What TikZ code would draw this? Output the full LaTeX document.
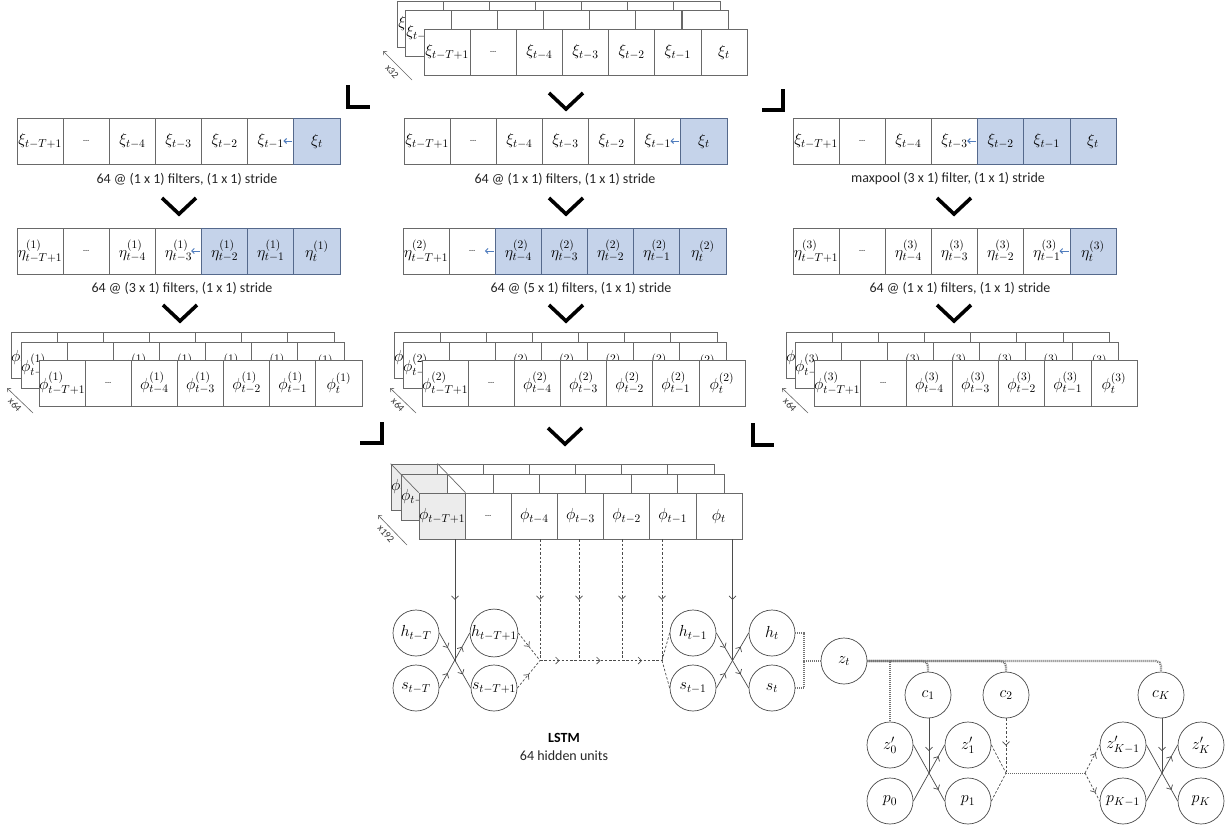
\documentclass[tikz,border=0pt]{standalone}
\usepackage{fix-cm}
\usepackage{fontspec}
\newfontfamily\capfont{Carlito}
\DeclareMathSizes{16}{16}{11.5}{9}
\usetikzlibrary{arrows.meta,decorations.markings,calc}
\definecolor{cellblue}{RGB}{197,211,234}
\definecolor{bluebord}{RGB}{85,105,140}
\definecolor{cellgray}{RGB}{236,236,236}
\definecolor{arrblue}{RGB}{80,125,190}
\definecolor{cline}{RGB}{105,105,105}
\definecolor{nline}{RGB}{75,75,75}
\newcommand{\dotsz}{{\fontsize{11}{13}\selectfont\ldots}}
\newcommand{\crow}[7]{%
  \foreach \lab [count=\i] in {{$#6_{t-T+1}$},{\dotsz},{$#6_{t-4}$},{$#6_{t-3}$},{$#6_{t-2}$},{$#6_{t-1}$},{$#6_{t}$}} {%
    \ifnum\i=1 \def\cf{#5}\def\cd{cline}\else
      \ifnum\i<#4 \def\cf{white}\def\cd{cline}\else\def\cf{cellblue}\def\cd{bluebord}\fi\fi
    \ifnum\i>#7 \def\lb{}\else\let\lb\lab\fi
    \node[cell, fill=\cf, draw=\cd] (#1-\i) at ({#2+(\i-0.5)*46.14},{#3+23}) {\lb};
  }}
\newcommand{\chev}[2]{\draw[chevst] (#1-17,#2) -- (#1,#2+16) -- (#1+17,#2);}
\tikzset{
  cell/.style={rectangle, minimum width=46.14pt, minimum height=46pt, inner sep=0pt, line width=0.7pt, font=\fontsize{16}{18}\selectfont},
  captxt/.style={font=\capfont\fontsize{14}{16}\selectfont, text=black!85, inner sep=0pt},
  xlab/.style={font=\capfont\fontsize{10}{12}\selectfont, text=black!80, inner sep=0pt},
  xar/.style={draw=black!60, line width=0.6pt, -{Straight Barb[length=3pt,width=5pt]}},
  blar/.style={draw=arrblue, line width=0.9pt, -{Straight Barb[length=2.5pt,width=5pt]}},
  chevst/.style={draw=black, line width=3.6pt, line join=miter},
  brk/.style={draw=black, line width=3.4pt, line join=miter},
  circ/.style={circle, draw=nline, line width=0.7pt, minimum size=46pt, inner sep=0pt, font=\fontsize{16}{18}\selectfont},
  ln/.style={draw=nline, line width=0.7pt},
  dsh/.style={draw=nline, line width=0.7pt, dash pattern=on 2.5pt off 1.8pt},
  midar/.style={postaction={decorate}, decoration={markings, mark=at position #1 with {\arrow{Straight Barb[length=3.5pt,width=7pt]}}}},
  midar/.default=0.5,
  twoar/.style={postaction={decorate}, decoration={markings, mark=at position 0.27 with {\arrow{Straight Barb[length=3.5pt,width=7pt]}}, mark=at position 0.75 with {\arrow{Straight Barb[length=3.5pt,width=7pt]}}}},
  tdot/.style={draw=black!55, line width=2.2pt, dash pattern=on 1pt off 1pt},
  thdot/.style={draw=black!60, line width=1pt, dash pattern=on 1pt off 1pt},
}
\begin{document}
\begin{tikzpicture}[x=1pt,y=-1pt]
\useasboundingbox (0,0) rectangle (1228,825);
\fill[white] (0,0) rectangle (1228,825);
% top xi stack
\crow{xb}{397}{1}{8}{white}{\xi}{1}
\crow{xm}{405}{10}{8}{white}{\xi}{1}
\crow{xf}{424}{29}{8}{white}{\xi}{7}
\coordinate (xa1) at (412,80); \coordinate (xa2) at (383,51);
\draw[xar] (xa1) -- (xa2);
\node[xlab, rotate=-48] (x32) at (392,72) {x32};
% brackets and chevron
\draw[brk] (348,85) -- (348,107) -- (370,107);
\draw[brk] (783,89) -- (783,110) -- (762,110);
\chev{566}{93}
% row 2
\crow{ra}{17}{118}{7}{white}{\xi}{7}
\crow{rb}{404}{118}{7}{white}{\xi}{7}
\crow{rc}{793}{118}{5}{white}{\xi}{7}
\draw[blar] ([xshift=-1pt]ra-7.west) -- ++(-9,0);
\draw[blar] ([xshift=-1pt]rb-7.west) -- ++(-9,0);
\draw[blar] ([xshift=-1pt]rc-5.west) -- ++(-9,0);
\node[captxt] (ca2) at (187,179) {64 @ (1 x 1) filters, (1 x 1) stride};
\node[captxt] (cb2) at (565,179) {64 @ (1 x 1) filters, (1 x 1) stride};
\node[captxt] (cc2) at (948,179) {maxpool (3 x 1) filter, (1 x 1) stride};
\chev{179}{198} \chev{566}{198} \chev{954}{198}
% row 3
\crow{sa}{17}{228}{5}{white}{\eta^{(1)}}{7}
\crow{sb}{403}{228}{3}{white}{\eta^{(2)}}{7}
\crow{sc}{793}{228}{7}{white}{\eta^{(3)}}{7}
\draw[blar] ([xshift=-1pt]sa-5.west) -- ++(-9,0);
\draw[blar] ([xshift=-1pt]sb-3.west) -- ++(-9,0);
\draw[blar] ([xshift=-1pt]sc-7.west) -- ++(-9,0);
\node[captxt] (ca3) at (182,288) {64 @ (3 x 1) filters, (1 x 1) stride};
\node[captxt] (cb3) at (581,288) {64 @ (5 x 1) filters, (1 x 1) stride};
\node[captxt] (cc3) at (960,288) {64 @ (1 x 1) filters, (1 x 1) stride};
\chev{180}{305} \chev{566}{305} \chev{954}{305}
% phi stacks
\crow{pab}{11}{332}{8}{white}{\phi^{(1)}}{1}
\crow{pam}{21}{342}{8}{white}{\phi^{(1)}}{7}
\crow{paf}{39}{360}{8}{white}{\phi^{(1)}}{7}
\crow{pbb}{394}{332}{8}{white}{\phi^{(2)}}{1}
\crow{pbm}{403}{342}{8}{white}{\phi^{(2)}}{7}
\crow{pbf}{422}{360}{8}{white}{\phi^{(2)}}{7}
\crow{pcb}{786}{332}{8}{white}{\phi^{(3)}}{1}
\crow{pcm}{795}{342}{8}{white}{\phi^{(3)}}{7}
\crow{pcf}{814}{360}{8}{white}{\phi^{(3)}}{7}
\coordinate (pa1) at (33,413); \coordinate (pa2) at (7,388);
\draw[xar] (pa1) -- (pa2);
\node[xlab, rotate=-48] (xa64) at (15,405) {x64};
\coordinate (pb1) at (416,413); \coordinate (pb2) at (390,388);
\draw[xar] (pb1) -- (pb2);
\node[xlab, rotate=-48] (xb64) at (398,405) {x64};
\coordinate (pc1) at (808,413); \coordinate (pc2) at (782,388);
\draw[xar] (pc1) -- (pc2);
\node[xlab, rotate=-48] (xc64) at (790,405) {x64};
% brackets and chevron
\draw[brk] (360,443) -- (382,443) -- (382,422);
\draw[brk] (753,423) -- (753,445) -- (774,445);
\chev{565}{428}
% final stack
\crow{fb}{391}{464}{8}{cellgray}{\phi}{1}
\crow{fm}{401}{474}{8}{cellgray}{\phi}{1}
\crow{fr}{419}{493}{8}{cellgray}{\phi}{7}
\draw[draw=cline, line width=0.7pt] (fb-1.north west) -- (fr-1.north west);
\draw[draw=cline, line width=0.7pt] (fb-1.north east) -- (fr-1.north east);
\coordinate (pf1) at (407,545); \coordinate (pf2) at (378,515);
\draw[xar] (pf1) -- (pf2);
\node[xlab, rotate=-48] (xf192) at (386,534) {x192};
% LSTM
\node[circ] (hA) at (416,633) {$h_{t-T}$};
\node[circ] (sA) at (416,688) {$s_{t-T}$};
\node[circ] (hB) at (494,633) {$h_{t-T+1}$};
\node[circ] (sB) at (494,688) {$s_{t-T+1}$};
\node[circ] (hC) at (693,633) {$h_{t-1}$};
\node[circ] (sC) at (693,688) {$s_{t-1}$};
\node[circ] (hD) at (772,633) {$h_{t}$};
\node[circ] (sD) at (772,688) {$s_{t}$};
\coordinate (X1) at ($(hA.east)!0.5!(sB.west)$);
\coordinate (X2) at ($(hC.east)!0.5!(sD.west)$);
\draw[ln, twoar] (hA.east) -- (sB.west);
\draw[ln, twoar] (sA.east) -- (hB.west);
\draw[ln, midar] (X1 |- fr-1.south) -- (X1);
\coordinate (J1) at (540,660.5);
\coordinate (J1b) at (579,660.5);
\coordinate (J1c) at (622,660.5);
\coordinate (J2) at (662,660.5);
\draw[dsh, midar] (J1 |- fr-3.south) -- (J1);
\draw[dsh, midar] (J1b |- fr-4.south) -- (J1b);
\draw[dsh, midar] (J1c |- fr-5.south) -- (J1c);
\draw[dsh, midar] (J2 |- fr-6.south) -- (J2);
\draw[dsh, midar] (hB.east) -- (J1);
\draw[dsh, midar] (sB.east) -- (J1);
\draw[dsh, midar] (J1) -- (J1b);
\draw[dsh, midar] (J1b) -- (J1c);
\draw[dsh, midar] (J1c) -- (J2);
\draw[dsh] (J2) -- (hC.west);
\draw[dsh] (J2) -- (sC.west);
\draw[ln, twoar] (hC.east) -- (sD.west);
\draw[ln, twoar] (sC.east) -- (hD.west);
\draw[ln, midar] (X2 |- fr-7.south) -- (X2);
\node[font=\capfont\bfseries\fontsize{14}{16}\selectfont, inner sep=0pt] (lstm) at (564,738) {LSTM};
\node[captxt] (hu) at (564,756) {64 hidden units};
% z and c
\node[circ] (zt) at (844,661) {$z_{t}$};
\coordinate (ZJ) at (804,661);
\draw[tdot] (hD.east) -| (ZJ) |- (sD.east);
\draw[tdot] (ZJ) -- (zt.west);
\node[circ] (c1) at (928,695) {$c_{1}$};
\node[circ] (c2) at (1006,695) {$c_{2}$};
\node[circ] (cK) at (1161,695) {$c_{K}$};
\node[circ] (z0) at (890,745) {$z'_{0}$};
\node[circ] (z1) at (968,745) {$z'_{1}$};
\node[circ] (p0) at (890,801) {$p_{0}$};
\node[circ] (p1) at (968,801) {$p_{1}$};
\node[circ] (zK1) at (1123,745) {$z'_{K-1}$};
\node[circ] (zK) at (1201,745) {$z'_{K}$};
\node[circ] (pK1) at (1123,801) {$p_{K-1}$};
\node[circ] (pK) at (1201,801) {$p_{K}$};
\draw[tdot] (zt.east) -| (z0.north);
\draw[tdot, rounded corners=5pt] (zt.east) -| (c1.north);
\draw[tdot, rounded corners=5pt] (zt.east) -| (c2.north);
\draw[tdot, rounded corners=5pt] (zt.east) -| (cK.north);
\coordinate (Y1) at ($(z0.east)!0.5!(p1.west)$);
\coordinate (YK) at ($(zK1.east)!0.5!(pK.west)$);
\coordinate (Y2) at (c2 |- Y1);
\coordinate (Y3) at (1085,773);
\draw[ln, midar=0.8] (z0.east) -- (p1.west);
\draw[ln, midar=0.8] (p0.east) -- (z1.west);
\draw[ln, midar=0.6] (Y1 |- c1.south) -- (Y1);
\draw[dsh, midar=0.5] (c2.south) -- (Y2);
\draw[dsh] (z1.east) -- (Y2);
\draw[dsh] (p1.east) -- (Y2);
\draw[thdot] (Y2) -- (Y3);
\draw[dsh, midar=0.7] (Y3) -- (zK1.west);
\draw[dsh, midar=0.7] (Y3) -- (pK1.west);
\draw[ln, midar=0.8] (zK1.east) -- (pK.west);
\draw[ln, midar=0.8] (pK1.east) -- (zK.west);
\draw[ln, midar=0.6] (YK |- cK.south) -- (YK);
\end{tikzpicture}
\end{document}
